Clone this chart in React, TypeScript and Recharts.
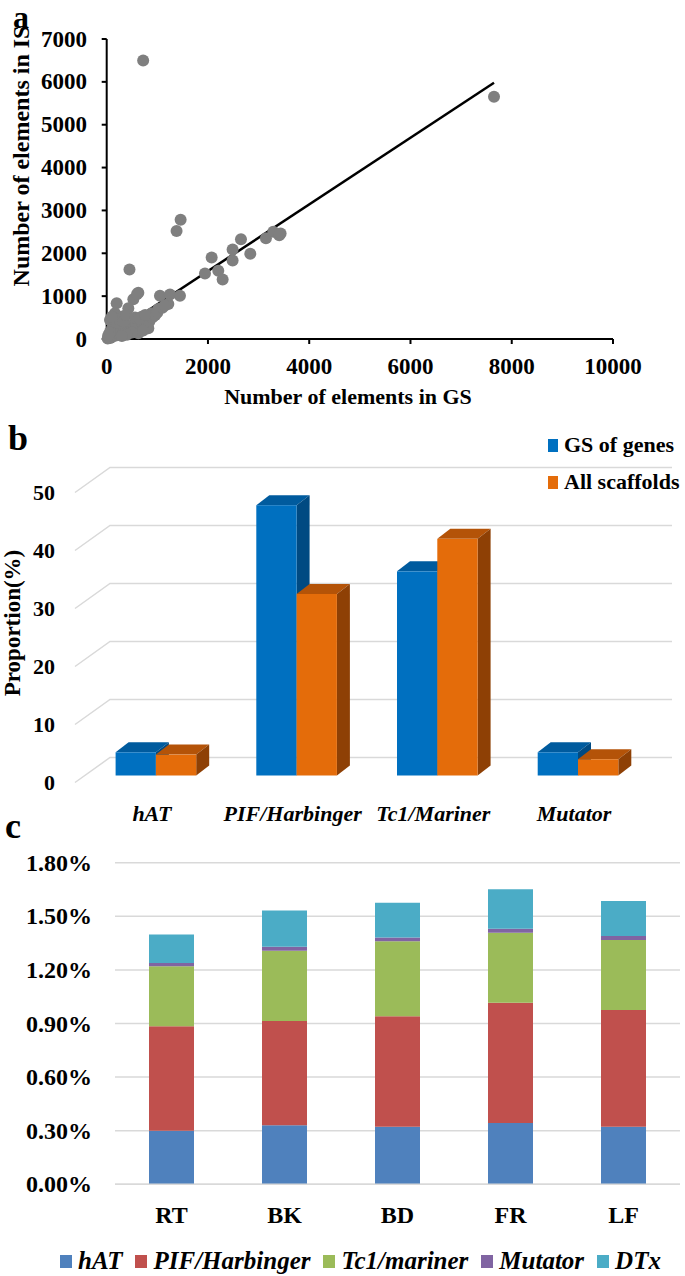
import React from "react";
import {
  ScatterChart,
  Scatter,
  XAxis,
  YAxis,
  ReferenceLine,
  BarChart,
  Bar,
  CartesianGrid,
  Legend,
} from "recharts";

const FONT = "'Liberation Serif', 'Times New Roman', serif";

// ---- panel a: element counts, GS vs IS ----
const gsCounts = [
  720, 7650, 1460, 1380, 450, 625, 526, 600, 197, 164, 65, 296, 427, 691, 888,
  1052, 1250, 1447, 1217, 1020, 921, 822, 625, 1941, 2073, 2204, 2290, 2487,
  2487, 2652, 2836, 3145, 3290, 3408, 3435, 20, 45, 70, 95, 120, 150, 180, 210,
  240, 270, 300, 340, 380, 420, 460, 500, 540, 580, 630, 680, 730, 780, 840, 900,
  960, 1000, 1100, 1150, 500, 400, 300, 720, 120, 90, 150, 200, 250, 330, 380,
  100, 60, 30, 560, 650, 760,
];
const isCounts = [
  6500, 5650, 2780, 2520, 1620, 1080, 930, 1050, 832, 600, 443, 520, 715, 520,
  599, 1010, 1040, 1010, 816, 700, 536, 250, 133, 1530, 1900, 1590, 1390, 1830,
  2090, 2330, 1990, 2350, 2500, 2420, 2460, 10, 40, 25, 80, 60, 110, 80, 160,
  120, 200, 150, 240, 190, 280, 220, 320, 260, 360, 300, 410, 350, 450, 400, 500,
  560, 620, 730, 780, 150, 100, 70, 200, 300, 200, 450, 380, 460, 410, 560, 520,
  150, 80, 500, 480, 560,
];
const trendGs = [0, 7650];
const trendIs = [30, 5980];
const xTicksA = [0, 2000, 4000, 6000, 8000, 10000];
const yTicksA = [0, 1000, 2000, 3000, 4000, 5000, 6000, 7000];

// ---- panel b: proportion per superfamily ----
const families = ["hAT", "PIF/Harbinger", "Tc1/Mariner", "Mutator"];
const gsOfGenes = [4.0, 46.6, 35.2, 4.0];
const allScaffolds = [3.6, 31.3, 40.8, 2.8];
const yTicksB = [0, 10, 20, 30, 40, 50];
const seriesB = ["GS of genes", "All scaffolds"];

// ---- panel c: genome share per tissue ----
const tissues = ["RT", "BK", "BD", "FR", "LF"];
const hatPct = [0.3, 0.33, 0.322, 0.343, 0.322];
const pifPct = [0.585, 0.584, 0.618, 0.673, 0.653];
const tc1Pct = [0.335, 0.393, 0.421, 0.392, 0.392];
const mutatorPct = [0.018, 0.023, 0.021, 0.022, 0.023];
const dtxPct = [0.16, 0.203, 0.194, 0.221, 0.195];
const yTicksC = [0, 0.3, 0.6, 0.9, 1.2, 1.5, 1.8];
const seriesC = ["hAT", "PIF/Harbinger", "Tc1/mariner", "Mutator", "DTx"];

const shade3d: Record<string, { front: string; top: string; side: string }> = {
  genes: { front: "#0070C0", top: "#005B9E", side: "#004A82" },
  scaffolds: { front: "#E46C0A", top: "#B45308", side: "#8E4005" },
};

function TickText(props: any) {
  const { x, y, payload, anchor, size, dx = 0, dy = 0, italic, fmt } = props;
  return (
    <text
      x={x + dx}
      y={y + dy}
      textAnchor={anchor}
      dominantBaseline="central"
      fontFamily={FONT}
      fontWeight="bold"
      fontStyle={italic ? "italic" : "normal"}
      fontSize={size}
      fill="#000"
    >
      {fmt ? fmt(payload.value) : payload.value}
    </text>
  );
}

function Box3D(props: any) {
  const { x, y, width, height, dataKey } = props;
  const c = shade3d[dataKey];
  const dx = 13;
  const dy = 10;
  const w = width;
  return (
    <g>
      <polygon
        points={`${x},${y} ${x + dx},${y - dy} ${x + w + dx},${y - dy} ${x + w},${y}`}
        fill={c.top}
      />
      <polygon
        points={`${x + w},${y} ${x + w + dx},${y - dy} ${x + w + dx},${y + height - dy} ${x + w},${y + height}`}
        fill={c.side}
      />
      <rect x={x} y={y} width={w} height={height} fill={c.front} />
    </g>
  );
}

const grid3D = (p: any) => {
  const { x1, x2, y1 } = p;
  const pts = `${x1 - 10.6},${y1 + 7} ${x1 + 24.4},${y1 - 18} ${x2 + 23.6},${y1 - 18}`;
  return <polyline key={p.key} points={pts} fill="none" stroke="#d9d9d9" strokeWidth={1.5} />;
};

const inOrder = (items: any[], order: string[]) =>
  [...items].sort((a, b) => order.indexOf(a.value) - order.indexOf(b.value));

function LegendB(props: any) {
  const items = inOrder(props.payload || [], seriesB);
  return (
    <div style={{ fontFamily: FONT, fontWeight: "bold", fontSize: 22 }}>
      {items.map((it: any) => (
        <div key={it.value} style={{ display: "flex", alignItems: "center", height: 37 }}>
          <span style={{ width: 10, height: 13, background: it.color, marginRight: 6 }} />
          <span>{it.value}</span>
        </div>
      ))}
    </div>
  );
}

function LegendC(props: any) {
  const items = inOrder(props.payload || [], seriesC);
  return (
    <div
      style={{
        display: "flex",
        alignItems: "center",
        fontFamily: FONT,
        fontWeight: "bold",
        fontStyle: "italic",
        fontSize: 25,
        whiteSpace: "nowrap",
      }}
    >
      {items.map((it: any) => (
        <div key={it.value} style={{ display: "flex", alignItems: "center", marginRight: 13 }}>
          <span style={{ width: 12, height: 13, background: it.color, marginRight: 6 }} />
          <span>{it.value}</span>
        </div>
      ))}
    </div>
  );
}

function Dot(p: any) {
  return <circle cx={p.cx} cy={p.cy} r={6} fill="#7f7f7f" />;
}

const txt = (size: number, lh = size): React.CSSProperties => ({
  position: "absolute",
  fontFamily: FONT,
  fontWeight: "bold",
  fontSize: size,
  lineHeight: `${lh}px`,
  whiteSpace: "nowrap",
  color: "#000",
});

export default function App() {
  const scatterData = gsCounts.map((g, i) => ({ gs: g, is: isCounts[i] }));
  const dataB = families.map((f, i) => ({ family: f, genes: gsOfGenes[i], scaffolds: allScaffolds[i] }));
  const dataC = tissues.map((t, i) => ({
    tissue: t,
    hAT: hatPct[i],
    pif: pifPct[i],
    tc1: tc1Pct[i],
    mutator: mutatorPct[i],
    dtx: dtxPct[i],
  }));
  const pct = (v: number) => v.toFixed(2) + "%";

  return (
    <div style={{ position: "absolute", left: 0, top: 0, width: 685, height: 1276, background: "#fff" }}>
      {/* a */}
      <div style={{ position: "absolute", left: 0, top: 0 }}>
        <ScatterChart width={685} height={420} margin={{ top: 39, right: 72, bottom: 0, left: 0 }}>
          <XAxis
            type="number"
            dataKey="gs"
            domain={[0, 10000]}
            ticks={xTicksA}
            height={81}
            axisLine={{ stroke: "#000", strokeWidth: 2 }}
            tickLine={{ stroke: "#000", strokeWidth: 2 }}
            tickSize={5}
            tickMargin={22}
            tick={(p: any) => <TickText {...p} anchor="middle" size={23} />}
          />
          <YAxis
            type="number"
            dataKey="is"
            domain={[0, 7000]}
            ticks={yTicksA}
            width={106.7}
            axisLine={{ stroke: "#000", strokeWidth: 2 }}
            tickLine={{ stroke: "#000", strokeWidth: 2 }}
            tickSize={5}
            tickMargin={14.7}
            tick={(p: any) => <TickText {...p} anchor="end" size={23} />}
          />
          <Scatter data={scatterData} fill="#7f7f7f" shape={Dot} isAnimationActive={false} />
          <ReferenceLine
            segment={[
              { x: trendGs[0], y: trendIs[0] },
              { x: trendGs[1], y: trendIs[1] },
            ]}
            stroke="#000"
            strokeWidth={2.5}
          />
        </ScatterChart>
        <div style={{ ...txt(32), left: 13, top: 1 }}>a</div>
        <div
          style={{
            ...txt(24),
            left: 21,
            top: 156,
            transform: "translate(-50%, -50%) rotate(-90deg)",
          }}
        >
          Number of elements in IS
        </div>
        <div style={{ ...txt(22), left: 348, top: 397, transform: "translate(-50%, -50%)" }}>
          Number of elements in GS
        </div>
      </div>

      {/* b */}
      <div style={{ position: "absolute", left: 0, top: 410 }}>
        <BarChart
          width={685}
          height={420}
          data={dataB}
          margin={{ top: 75.5, right: 36.6, bottom: 0, left: 0 }}
          barGap={0}
          barSize={40.3}
        >
          <CartesianGrid vertical={false} horizontal={grid3D} />
          <XAxis
            dataKey="family"
            axisLine={false}
            tickLine={false}
            tickSize={0}
            tickMargin={0}
            height={54.5}
            interval={0}
            tick={(p: any) => <TickText {...p} anchor="middle" size={22} italic dx={-4} dy={37.5} />}
          />
          <YAxis
            domain={[0, 50]}
            ticks={yTicksB}
            width={85.6}
            axisLine={false}
            tickLine={false}
            tickSize={0}
            tickMargin={0}
            tick={(p: any) => <TickText {...p} x={55} anchor="end" size={22} dy={7} />}
          />
          <Legend
            layout="horizontal"
            verticalAlign="middle"
            align="center"
            content={LegendB}
            wrapperStyle={{ top: 16.5, left: 548, width: 140 }}
          />
          <Bar dataKey="genes" name={seriesB[0]} fill="#0070C0" shape={Box3D} isAnimationActive={false} />
          <Bar dataKey="scaffolds" name={seriesB[1]} fill="#E46C0A" shape={Box3D} isAnimationActive={false} />
        </BarChart>
        <div style={{ ...txt(36), left: 8, top: 10 }}>b</div>
        <div
          style={{
            ...txt(23),
            left: 12,
            top: 213,
            transform: "translate(-50%, -50%) rotate(-90deg)",
          }}
        >
          Proportion(%)
        </div>
      </div>

      {/* c */}
      <div style={{ position: "absolute", left: 0, top: 830 }}>
        <BarChart
          width={685}
          height={446}
          data={dataC}
          margin={{ top: 32.7, right: 5, bottom: 0, left: 0 }}
          barSize={45}
        >
          <CartesianGrid vertical={false} stroke="#d9d9d9" strokeWidth={1.5} />
          <XAxis
            dataKey="tissue"
            axisLine={{ stroke: "#d9d9d9", strokeWidth: 1.5 }}
            tickLine={false}
            tickSize={0}
            tickMargin={0}
            height={91.7}
            tick={(p: any) => <TickText {...p} anchor="middle" size={24} dy={30.7} />}
          />
          <YAxis
            domain={[0, 1.8]}
            ticks={yTicksC}
            width={115}
            axisLine={false}
            tickLine={false}
            tickSize={0}
            tickMargin={23}
            tick={(p: any) => <TickText {...p} anchor="end" size={24} fmt={pct} />}
          />
          <Legend
            layout="horizontal"
            verticalAlign="middle"
            align="center"
            content={LegendC}
            wrapperStyle={{ top: 417, left: 60, width: 640 }}
          />
          <Bar stackId="s" dataKey="hAT" name={seriesC[0]} fill="#4F81BD" isAnimationActive={false} />
          <Bar stackId="s" dataKey="pif" name={seriesC[1]} fill="#C0504D" isAnimationActive={false} />
          <Bar stackId="s" dataKey="tc1" name={seriesC[2]} fill="#9BBB59" isAnimationActive={false} />
          <Bar stackId="s" dataKey="mutator" name={seriesC[3]} fill="#8064A2" isAnimationActive={false} />
          <Bar stackId="s" dataKey="dtx" name={seriesC[4]} fill="#4BACC6" isAnimationActive={false} />
        </BarChart>
        <div style={{ ...txt(36), left: 5, top: -22 }}>c</div>
      </div>
    </div>
  );
}
